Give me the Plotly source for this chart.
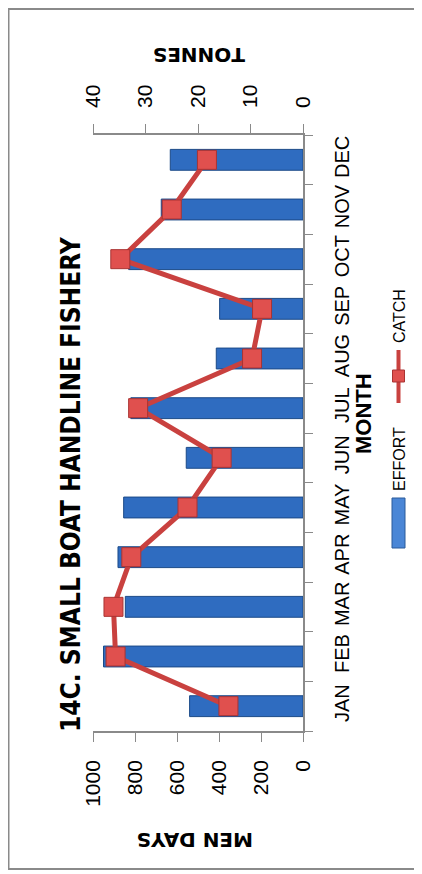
import plotly.graph_objects as go

months = ['JAN', 'FEB', 'MAR', 'APR', 'MAY', 'JUN', 'JUL', 'AUG', 'SEP', 'OCT', 'NOV', 'DEC']
effort = [540, 950, 846, 881, 854, 556, 820, 413, 397, 830, 675, 632]   # men days
catch = [14.2, 35.7, 36.1, 32.7, 22.0, 15.5, 31.4, 9.7, 7.8, 34.8, 25.0, 18.3]  # tonnes
effort_ticks = [0, 200, 400, 600, 800, 1000]
catch_ticks = [0, 10, 20, 30, 40]

# the page body adds an 8px margin, so work in page pixels and shift
OFF = 8
W, H = 422 - OFF, 874 - OFF
L, R, T, B = 93, 303, 135, 731   # plot area in page pixels

def px(x):
    return (x - L) / (R - L)

def py(y):
    return (B - y) / (B - T)

font = 'Liberation Sans, Arial, sans-serif'
blue = '#2f6cc0'
red = '#c9413f'
grey = '#8a8a8a'

fig = go.Figure()
fig.add_trace(go.Bar(x=effort, y=months, orientation='h', width=0.42,
                     marker=dict(color=blue, line=dict(color='#1b4a88', width=1)),
                     showlegend=False))
fig.add_trace(go.Scatter(x=catch, y=months, xaxis='x2', mode='lines+markers',
                         line=dict(color=red, width=5),
                         marker=dict(symbol='square', size=19, color='#e0504e',
                                     line=dict(color='#a93332', width=1)),
                         showlegend=False))

fig.update_layout(
    width=W, height=H,
    margin=dict(l=L - OFF, r=W - (R - OFF), t=T - OFF, b=H - (B - OFF), autoexpand=False),
    paper_bgcolor='white', plot_bgcolor='white',
    font=dict(family=font, color='black'),
    xaxis=dict(range=[1000, 0], tickvals=effort_ticks, tickangle=-90, automargin=False,
               showline=True, linecolor=grey, linewidth=1.5, showgrid=False,
               zeroline=False, ticks='outside', ticklen=9, tickcolor=grey,
               tickfont=dict(size=21), ticklabelstandoff=10),
    xaxis2=dict(range=[40, 0], tickvals=catch_ticks, tickangle=-90, side='top',
                overlaying='x', showline=True, linecolor=grey, linewidth=1.5, automargin=False,
                showgrid=False, zeroline=False, ticks='outside', ticklen=9,
                tickcolor=grey, tickfont=dict(size=21), ticklabelstandoff=12),
    yaxis=dict(type='category', categoryorder='array', categoryarray=months,
               range=[-0.5, 11.5], side='right', tickangle=-90, showline=True,
               linecolor=grey, linewidth=1.5, ticks='outside', tickson='boundaries',
               ticklen=8, tickcolor=grey, showgrid=False, tickfont=dict(size=20),
               ticklabelstandoff=20, automargin=False),
)

# outer frame
fig.add_shape(type='rect', xref='paper', yref='paper', x0=px(8.5), x1=px(440),
              y0=py(869), y1=py(9), line=dict(color=grey, width=2))

# legend drawn rotated like the rest of the chart
fig.add_shape(type='rect', xref='paper', yref='paper', x0=px(392), x1=px(405),
              y0=py(548), y1=py(498), fillcolor='#4a86d6', line=dict(color='#2a5a9a', width=1))
fig.add_shape(type='line', xref='paper', yref='paper', x0=px(398.5), x1=px(398.5),
              y0=py(403), y1=py(350), line=dict(color=red, width=4))
fig.add_shape(type='rect', xref='paper', yref='paper', x0=px(392.5), x1=px(404.5),
              y0=py(382), y1=py(370), fillcolor='#e0504e', line=dict(color='#a93332', width=1))

ann = dict(xref='paper', yref='paper', showarrow=False, xanchor='center', yanchor='middle')
fig.add_annotation(text='<b>14C. SMALL BOAT HANDLINE FISHERY</b>', x=px(71), y=py(484),
                   textangle=-90, font=dict(size=26, family='Liberation Sans Narrow, DejaVu Sans Condensed, sans-serif'), **ann)
fig.add_annotation(text='<b>MONTH</b>', x=px(363), y=py(414), textangle=-90,
                   font=dict(size=22), **ann)
fig.add_annotation(text='<b>MEN DAYS</b>', x=px(195), y=py(840), textangle=180,
                   font=dict(size=20, family='DejaVu Sans, sans-serif'), **ann)
fig.add_annotation(text='<b>TONNES</b>', x=px(199), y=py(55), textangle=180,
                   font=dict(size=20, family='DejaVu Sans, sans-serif'), **ann)
fig.add_annotation(text='EFFORT', x=px(399), y=py(459), textangle=-90,
                   font=dict(size=16), **ann)
fig.add_annotation(text='CATCH', x=px(399), y=py(316), textangle=-90,
                   font=dict(size=16), **ann)

fig.write_html("out.html")
